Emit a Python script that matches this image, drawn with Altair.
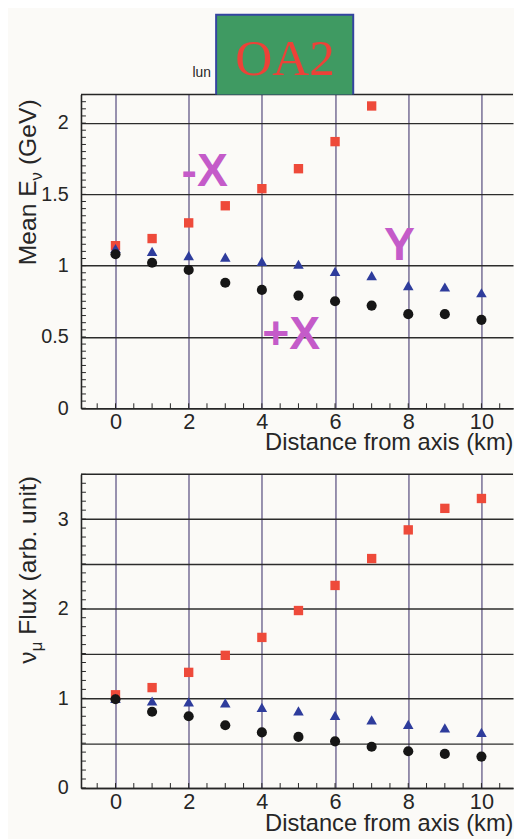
import altair as alt
import pandas as pd
import numpy as np

# ---------------- data ----------------
distance_km = [0, 1, 2, 3, 4, 5, 6, 7, 8, 9, 10]

# Mean neutrino energy (GeV)
mean_e_minus_x = [1.14, 1.19, 1.30, 1.42, 1.54, 1.68, 1.87, 2.12]   # 0..7 km (rest off scale)
mean_e_y = [1.12, 1.10, 1.07, 1.06, 1.03, 1.01, 0.96, 0.93, 0.86, 0.85, 0.81]
mean_e_plus_x = [1.08, 1.02, 0.97, 0.88, 0.83, 0.79, 0.75, 0.72, 0.66, 0.66, 0.62]

# nu_mu flux (arb. unit)
flux_minus_x = [1.04, 1.12, 1.29, 1.48, 1.68, 1.98, 2.26, 2.56, 2.88, 3.12, 3.23]
flux_y = [1.00, 0.97, 0.96, 0.95, 0.90, 0.86, 0.81, 0.76, 0.71, 0.67, 0.62]
flux_plus_x = [0.99, 0.85, 0.80, 0.70, 0.62, 0.57, 0.52, 0.46, 0.41, 0.38, 0.35]

series_names = ["-X", "Y", "+X"]
series_colors = ["#ee4a3a", "#2e3c9c", "#161616"]
series_shapes = ["square", "triangle-up", "circle"]
series_sizes = [90, 115, 105]

x_ticks = [0, 2, 4, 6, 8, 10]
top_grid = [0, 0.25, 0.5, 0.75, 1.0, 1.25, 1.5, 1.75, 2.0]
bottom_grid = [0, 0.5, 1.0, 1.5, 2.0, 2.5, 3.0]

# annotation labels (data coordinates of the top panel)
ann_text = ["-X", "Y", "+X"]
ann_x = [2.44, 7.76, 4.80]
ann_y = [1.557, 1.038, 0.415]

# ---------------- styling ----------------
FONT = "Liberation Sans"
W, H = 438, 318
XDOM = [-0.943, 10.863]
INK = "#262626"
HGRID = "#2c2c2c"
VGRID = "#54497c"
MAGENTA = "#c45bc9"
BG = "#fbfaf7"

one = pd.DataFrame({"k": [0]})


def text_piece(txt, x, y, size, angle=270, color=INK, align="left", font=FONT,
               weight="normal", baseline="alphabetic"):
    return alt.Chart(one).mark_text(
        text=txt, angle=angle, align=align, baseline=baseline, fontSize=size,
        font=font, fontWeight=weight, color=color
    ).encode(x=alt.value(x), y=alt.value(y))


def panel(values, ydom, ygrid, label_expr, minor_step, title_layers, extras, title_y):
    xs = alt.Scale(domain=XDOM, nice=False, zero=False)
    ys = alt.Scale(domain=ydom, nice=False, zero=False)
    x_axis = alt.Axis(
        values=x_ticks, grid=True, gridColor=VGRID, gridWidth=1.2, ticks=False,
        labelFontSize=22, labelPadding=4, labelColor=INK, labelFlush=False,
        labelOverlap=False, domainColor=INK, domainWidth=1.6,
        title="Distance from axis (km)", titleFontSize=24, titleFontWeight="normal",
        titleColor=INK, titleAlign="right", titleAnchor="end", titleX=W,
        titleY=title_y, titleBaseline="alphabetic", titleFont=FONT, labelFont=FONT,
    )
    y_axis = alt.Axis(
        values=ygrid, grid=True, gridColor=HGRID, gridWidth=1.4, ticks=False,
        labelFontSize=20, labelPadding=13, labelColor=INK, labelFlush=False,
        labelOverlap=False, labelExpr=label_expr, domainColor=INK, domainWidth=1.6,
        title=None, labelFont=FONT,
    )
    layers = []
    for name, vals, color, shape, size in zip(series_names, values, series_colors,
                                              series_shapes, series_sizes):
        df = pd.DataFrame({"d": distance_km[:len(vals)], "v": vals})
        layers.append(
            alt.Chart(df).mark_point(filled=True, opacity=1, shape=shape, size=size,
                                     color=color, strokeWidth=0)
            .encode(x=alt.X("d:Q", scale=xs, axis=x_axis),
                    y=alt.Y("v:Q", scale=ys, axis=y_axis))
        )
    # minor ticks drawn inside the frame (decoration)
    ymin = pd.DataFrame({"t": np.round(np.arange(ydom[0], ydom[1] + 1e-9, minor_step), 3)})
    xmin = pd.DataFrame({"t": np.arange(-0.5, 10.51, 0.5)})
    minor_y = alt.Chart(ymin).mark_rule(color=INK, strokeWidth=1).encode(
        y=alt.Y("t:Q", scale=ys, axis=y_axis), x=alt.value(0), x2=alt.value(5))
    minor_x = alt.Chart(xmin).mark_rule(color=INK, strokeWidth=1).encode(
        x=alt.X("t:Q", scale=xs, axis=x_axis), y=alt.value(H), y2=alt.value(H - 5))
    top_line = alt.Chart(one).mark_rule(color=INK, strokeWidth=1.6).encode(
        x=alt.value(0), x2=alt.value(W), y=alt.value(0))
    all_layers = [minor_y, minor_x, top_line] + layers + title_layers + extras
    return alt.layer(*all_layers).properties(width=W, height=H)


# ---- top panel ----
top_title = [
    text_piece("Mean E", -46, 173, 25),
    text_piece("\u03bd", -40, 87, 17),
    text_piece("(GeV)", -46, 71.5, 25),
]
ann_df = pd.DataFrame({"d": ann_x, "v": ann_y, "txt": ann_text})
ann = alt.Chart(ann_df).mark_text(
    fontSize=47, fontWeight="bold", font=FONT, color=MAGENTA, align="center",
    baseline="alphabetic"
).encode(
    x=alt.X("d:Q", scale=alt.Scale(domain=XDOM, nice=False, zero=False)),
    y=alt.Y("v:Q", scale=alt.Scale(domain=[0, 2.2], nice=False, zero=False)),
    text="txt:N",
)
lun = text_piece("lun", 113, -18, 14, angle=0)
# label box: blue frame drawn as an outer fill, green fill inside (no strokes)
box_frame = alt.Chart(one).mark_rect(fill="#3444a0", strokeWidth=0).encode(
    x=alt.value(136), x2=alt.value(277), y=alt.value(-82), y2=alt.value(0))
box_fill = alt.Chart(one).mark_rect(fill="#3f9a62", strokeWidth=0).encode(
    x=alt.value(138), x2=alt.value(275), y=alt.value(-80), y2=alt.value(0))
oa2 = text_piece("OA2", 207, -20, 52, angle=0, color="#ec4238", align="center",
                 font="Liberation Serif")

top = panel([mean_e_minus_x, mean_e_y, mean_e_plus_x], [0, 2.2], top_grid,
            "datum.value % 0.5 == 0 ? '' + datum.value : ''", 0.05,
            top_title, [ann, lun, box_frame, box_fill, oa2], 42)

# ---- bottom panel ----
bottom_title = [
    text_piece("\u03bd", -46, 192, 25),
    text_piece("\u03bc", -40, 179.5, 17),
    text_piece("Flux (arb. unit)", -46, 162.7, 25),
]
bottom = panel([flux_minus_x, flux_y, flux_plus_x], [0, 3.5], bottom_grid,
               "datum.value % 1 == 0 ? '' + datum.value : ''", 0.1,
               bottom_title, [], 43)

chart = alt.vconcat(top, bottom, spacing=19).properties(
    padding={"left": 7, "top": 0, "right": 0, "bottom": 0},
    background=BG,
).configure_view(stroke=None, fill=BG).configure_axis(labelFont=FONT, titleFont=FONT)

chart.save("out.html", embed_options={"renderer": "svg", "actions": False})
